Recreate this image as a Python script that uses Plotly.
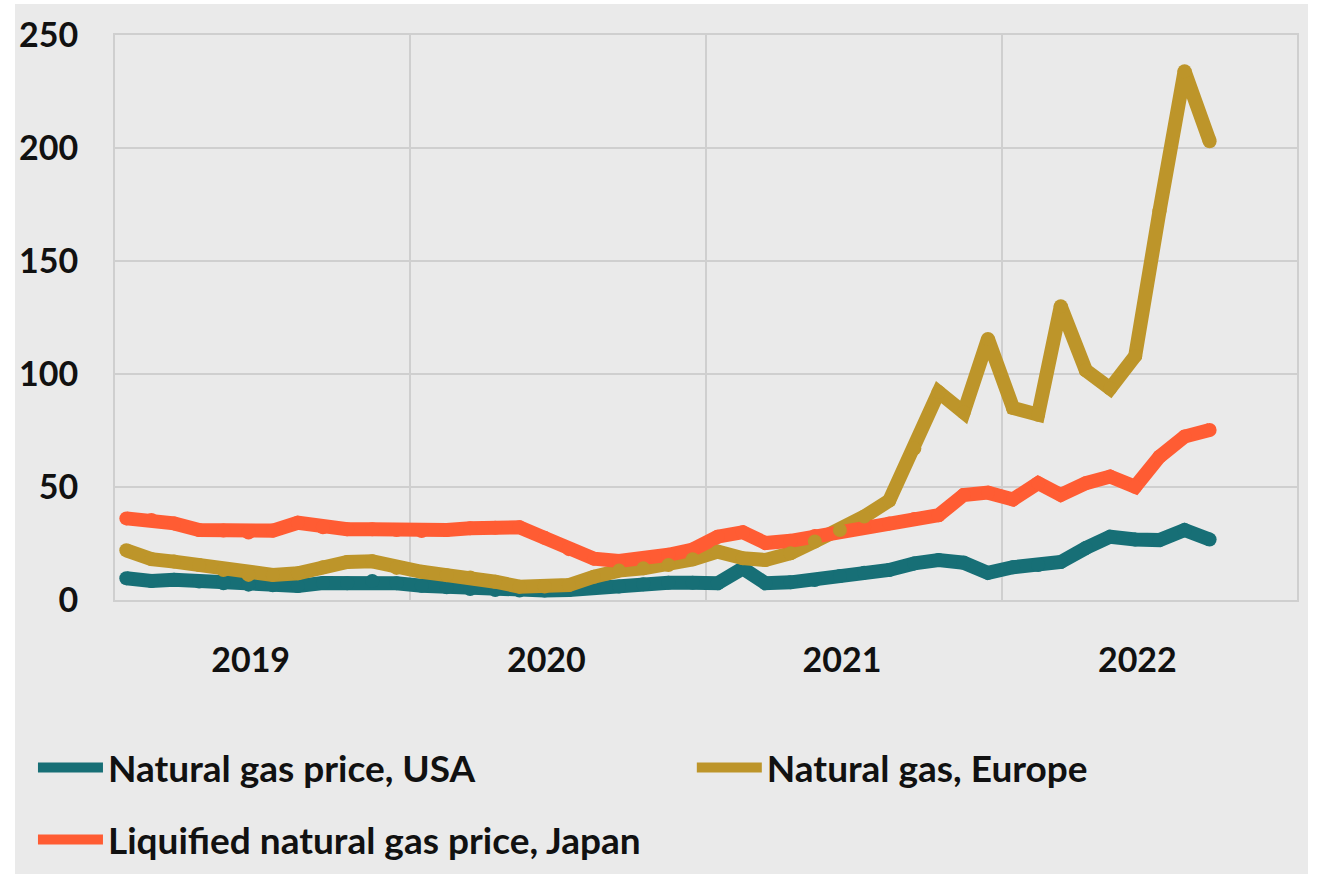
import pandas as pd
import plotly.graph_objects as go

# Monthly data, Jan 2019 - Sep 2022
months = pd.date_range("2019-01-01", periods=45, freq="MS")

usa = [9.6, 8.4, 9.0, 8.2, 7.4, 6.8, 6.5, 6.2, 7.5, 7.4, 8.4, 7.4,
       6.3, 5.6, 4.9, 4.4, 4.2, 4.2, 4.4, 5.5, 6.0, 7.0, 7.6, 7.6,
       7.4, 14.0, 7.4, 7.8, 8.8, 10.6, 12.1, 13.3, 16.2, 17.7, 16.5, 12.0,
       14.5, 15.5, 16.8, 23.0, 28.0, 26.8, 26.5, 31.0, 26.8]

europe = [22.0, 18.1, 17.0, 15.5, 13.3, 11.1, 11.1, 11.8, 14.5, 16.8, 17.1, 14.2,
          12.5, 11.0, 10.0, 8.1, 5.9, 6.0, 6.6, 10.3, 13.0, 14.0, 15.5, 18.0,
          21.4, 18.5, 17.7, 20.7, 25.9, 31.0, 36.9, 44.0, 67.0, 92.0, 83.0, 115.5,
          85.0, 82.0, 130.0, 101.6, 93.6, 108.0, 172.0, 234.0, 203.0]

japan = [36.1, 35.4, 33.9, 31.0, 30.7, 29.9, 30.7, 34.2, 32.2, 31.3, 31.3, 31.0,
         30.5, 31.0, 31.7, 32.0, 32.2, 27.5, 22.5, 18.3, 17.3, 18.3, 20.0, 22.3,
         28.0, 30.0, 25.2, 26.2, 28.3, 30.5, 32.4, 33.9, 35.8, 37.5, 46.5, 47.5,
         44.5, 51.7, 46.5, 51.7, 54.6, 50.1, 63.4, 72.3, 75.2]

names = ["Natural gas price, USA", "Natural gas, Europe",
         "Liquified natural gas price, Japan"]
colors = {"usa": "#176f76", "europe": "#bd952a", "japan": "#ff5c33"}

x = months + pd.Timedelta(days=14)
LW = 14

fig = go.Figure()
# USA
fig.add_trace(go.Scatter(x=x, y=usa, name=names[0], mode="lines",
                         legend="legend", legendgroup="usa",
                         line=dict(color=colors["usa"], width=LW)))
fig.add_trace(go.Scatter(x=x, y=usa, mode="markers", showlegend=False,
                         marker=dict(color=colors["usa"], size=LW)))
# Europe (line below Japan)
fig.add_trace(go.Scatter(x=x, y=europe, name=names[1], mode="lines",
                         legend="legend2", legendgroup="europe",
                         line=dict(color=colors["europe"], width=LW)))
# Japan
fig.add_trace(go.Scatter(x=x, y=japan, name=names[2], mode="lines",
                         legend="legend", legendgroup="japan",
                         line=dict(color=colors["japan"], width=LW)))
fig.add_trace(go.Scatter(x=x, y=japan, mode="markers", showlegend=False,
                         marker=dict(color=colors["japan"], size=LW)))
# Europe vertices on top
fig.add_trace(go.Scatter(x=x, y=europe, mode="markers", showlegend=False,
                         marker=dict(color=colors["europe"], size=LW)))

font_family = "Lato, 'Source Sans Pro', sans-serif"
grid = "#cfcfcf"
bg = "#eaeaea"
legend_font = dict(size=37, family=font_family, weight="bold", color="#111111")

fig.update_layout(
    width=1322, height=874,
    margin=dict(l=115, r=25, t=35, b=274),
    paper_bgcolor="white",
    plot_bgcolor=bg,
    font=dict(family=font_family, color="#111111", size=34, weight="bold"),
    showlegend=True,
    legend=dict(orientation="v", xref="paper", x=-0.0694, xanchor="left",
                yref="container", y=0.1568, yanchor="top",
                font=legend_font, itemwidth=65, tracegroupgap=21,
                bgcolor="rgba(0,0,0,0)"),
    legend2=dict(orientation="v", xref="paper", x=0.488, xanchor="left",
                 yref="container", y=0.1568, yanchor="top",
                 font=legend_font, itemwidth=65, bgcolor="rgba(0,0,0,0)"),
    hovermode=False,
    shapes=[dict(type="rect", xref="paper", yref="paper", layer="below",
                 x0=-0.0846, x1=1.0093, y0=-0.49, y1=1.0549,
                 fillcolor=bg, line=dict(width=0))],
)

fig.update_xaxes(
    type="date", range=["2019-01-01", "2023-01-01"],
    dtick="M12", tick0="2019-01-01", tickformat="%Y", ticklabelmode="period",
    ticklabelshift=-12,
    showgrid=True, gridcolor=grid, gridwidth=2,
    showline=True, linecolor=grid, linewidth=2, mirror=True,
    ticks="", ticklabelstandoff=29,
    tickfont=dict(size=34, family=font_family, weight="bold"),
)
fig.update_yaxes(
    range=[0, 250], dtick=50,
    showgrid=True, gridcolor=grid, gridwidth=2,
    zeroline=True, zerolinecolor=grid, zerolinewidth=2,
    showline=True, linecolor=grid, linewidth=2, mirror=True,
    ticks="", ticklabelstandoff=28,
    tickfont=dict(size=34, family=font_family, weight="bold"),
)

fig.write_html("out.html", config={"displayModeBar": False},
               post_script="document.body.style.margin='0px';")
